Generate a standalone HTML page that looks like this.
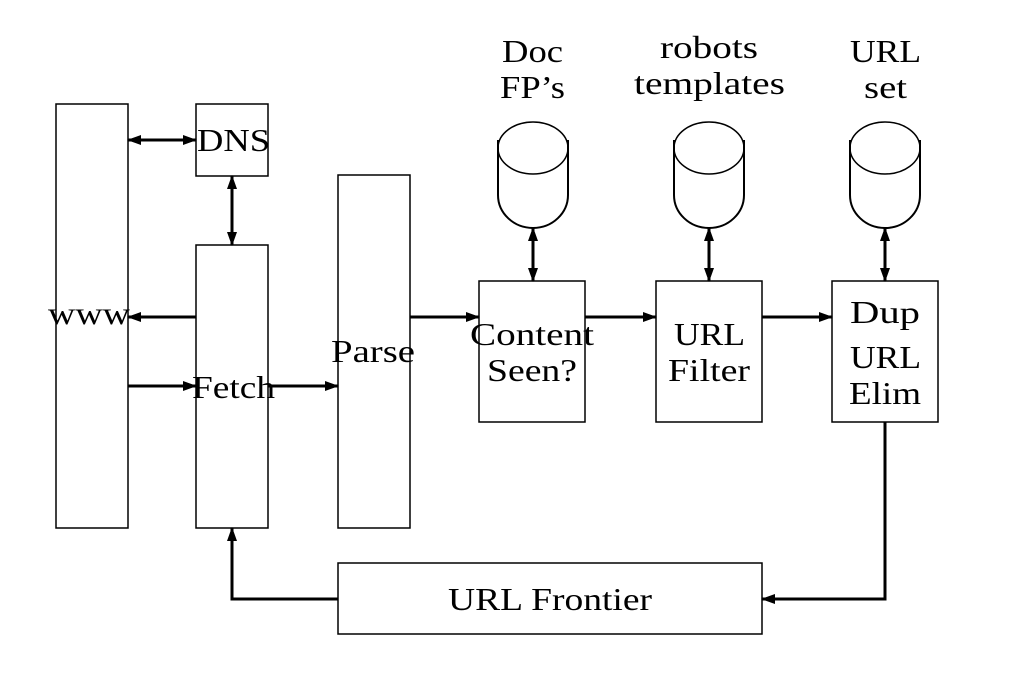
<!DOCTYPE html>
<html><head><style>body{margin:0;background:#fff}svg{display:block}text{font-family:"Liberation Serif",serif;font-size:32px;fill:#000}</style></head><body>
<svg width="1010" height="676" viewBox="0 0 1010 676">
<defs>
<marker id="b" markerWidth="14" markerHeight="10" refX="13" refY="5" orient="auto-start-reverse" markerUnits="userSpaceOnUse"><path d="M0,0 L14,5 L0,10 z" fill="#000"/></marker>
</defs>
<g fill="none" stroke="#000" stroke-width="1.5">
<rect x="56" y="104" width="72" height="424"/>
<rect x="196" y="104" width="72" height="72"/>
<rect x="196" y="245" width="72" height="283"/>
<rect x="338" y="175" width="72" height="353"/>
<rect x="479" y="281" width="106" height="141"/>
<rect x="656" y="281" width="106" height="141"/>
<rect x="832" y="281" width="106" height="141"/>
<rect x="338" y="563" width="424" height="71"/>
</g>
<g fill="none" stroke="#000" stroke-width="1.5">
<ellipse cx="533" cy="148" rx="35" ry="26"/>
<path d="M498,140 V195 A35,33 0 0 0 568,195 V140" stroke-width="2"/>
<ellipse cx="709" cy="148" rx="35" ry="26"/>
<path d="M674,140 V195 A35,33 0 0 0 744,195 V140" stroke-width="2"/>
<ellipse cx="885" cy="148" rx="35" ry="26"/>
<path d="M850,140 V195 A35,33 0 0 0 920,195 V140" stroke-width="2"/>
</g>
<g stroke="#000" stroke-width="3" fill="none">
<line x1="128" y1="140" x2="196" y2="140" marker-start="url(#b)" marker-end="url(#b)"/>
<line x1="232" y1="176" x2="232" y2="245" marker-start="url(#b)" marker-end="url(#b)"/>
<line x1="196" y1="317" x2="128" y2="317" marker-end="url(#b)"/>
<line x1="128" y1="386" x2="196" y2="386" marker-end="url(#b)"/>
<line x1="268" y1="386" x2="338" y2="386" marker-end="url(#b)"/>
<line x1="410" y1="317" x2="479" y2="317" marker-end="url(#b)"/>
<line x1="585" y1="317" x2="656" y2="317" marker-end="url(#b)"/>
<line x1="762" y1="317" x2="832" y2="317" marker-end="url(#b)"/>
<line x1="533" y1="228" x2="533" y2="281" marker-start="url(#b)" marker-end="url(#b)"/>
<line x1="709" y1="228" x2="709" y2="281" marker-start="url(#b)" marker-end="url(#b)"/>
<line x1="885" y1="228" x2="885" y2="281" marker-start="url(#b)" marker-end="url(#b)"/>
<polyline points="885,422 885,599 762,599" marker-end="url(#b)"/>
<polyline points="338,599 232,599 232,528" marker-end="url(#b)"/>
</g>
<g style="font-size:32px">
<text x="48" y="324" textLength="82" lengthAdjust="spacingAndGlyphs">www</text>
<text x="197" y="151" textLength="73" lengthAdjust="spacingAndGlyphs">DNS</text>
<text x="192" y="398" textLength="83" lengthAdjust="spacingAndGlyphs">Fetch</text>
<text x="331" y="362" textLength="84" lengthAdjust="spacingAndGlyphs">Parse</text>
<text x="470" y="345" textLength="124" lengthAdjust="spacingAndGlyphs">Content</text>
<text x="487" y="381" textLength="90" lengthAdjust="spacingAndGlyphs">Seen?</text>
<text x="674" y="345" textLength="71" lengthAdjust="spacingAndGlyphs">URL</text>
<text x="668" y="381" textLength="82" lengthAdjust="spacingAndGlyphs">Filter</text>
<text x="850" y="323" textLength="70" lengthAdjust="spacingAndGlyphs">Dup</text>
<text x="850" y="368" textLength="71" lengthAdjust="spacingAndGlyphs">URL</text>
<text x="849" y="404" textLength="72" lengthAdjust="spacingAndGlyphs">Elim</text>
<text x="448" y="610" textLength="204" lengthAdjust="spacingAndGlyphs">URL Frontier</text>
<text x="502" y="62" textLength="61" lengthAdjust="spacingAndGlyphs">Doc</text>
<text x="500" y="98" textLength="65" lengthAdjust="spacingAndGlyphs">FP’s</text>
<text x="660" y="58" textLength="98" lengthAdjust="spacingAndGlyphs">robots</text>
<text x="634" y="94" textLength="151" lengthAdjust="spacingAndGlyphs">templates</text>
<text x="850" y="62" textLength="71" lengthAdjust="spacingAndGlyphs">URL</text>
<text x="864" y="98" textLength="43" lengthAdjust="spacingAndGlyphs">set</text>
</g>
</svg>
</body></html>
